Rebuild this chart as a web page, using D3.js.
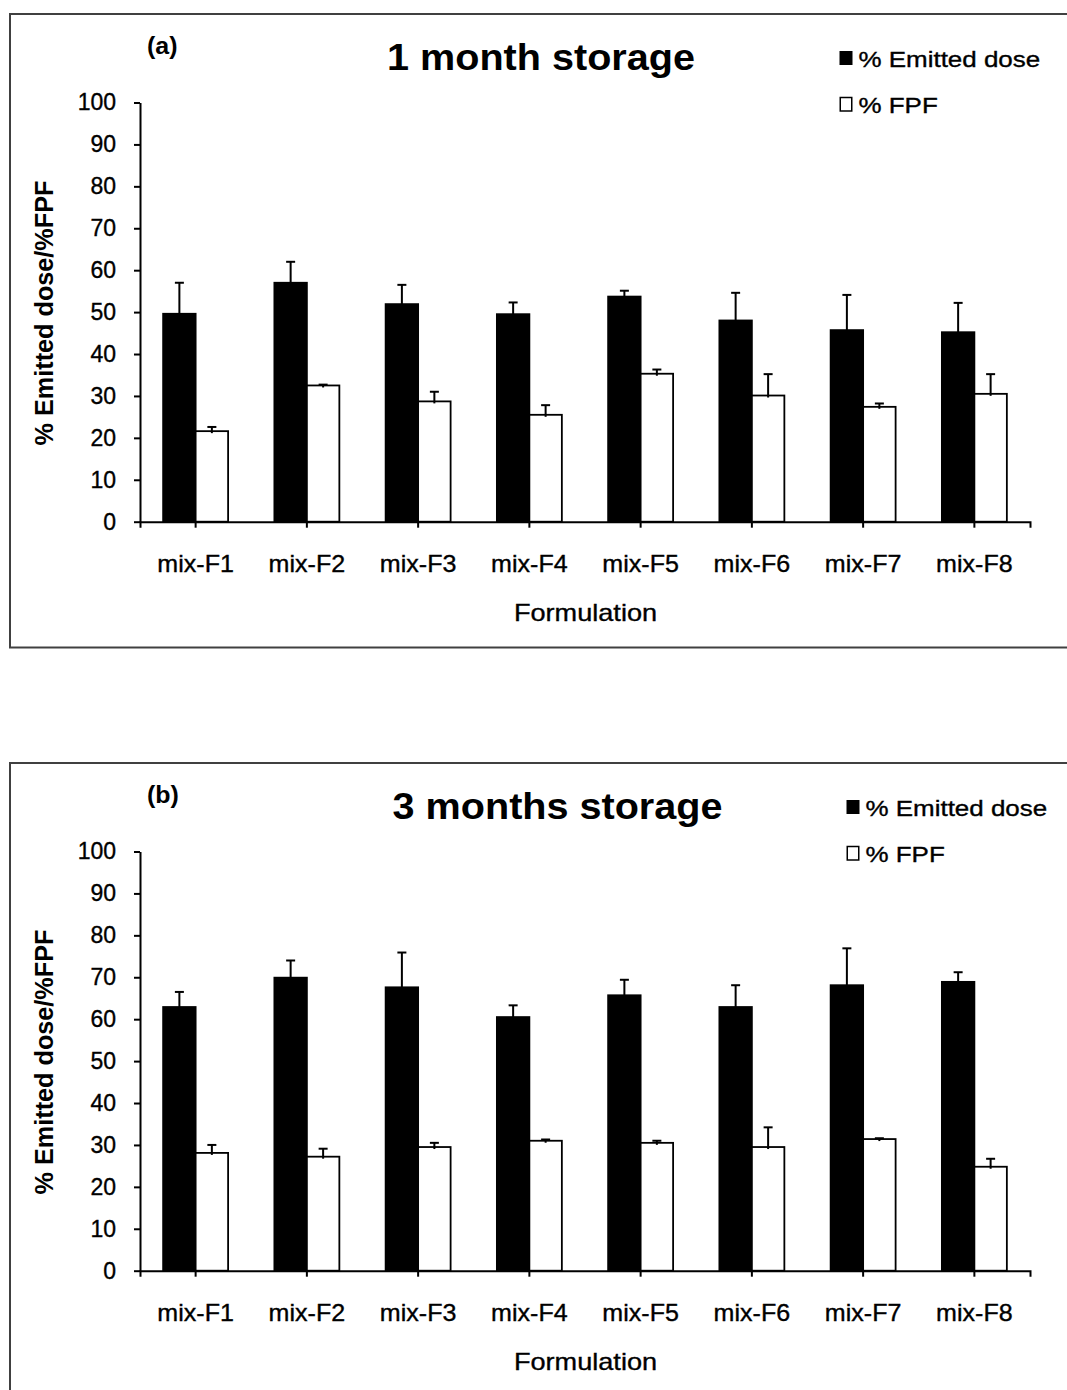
<!DOCTYPE html>
<html>
<head>
<meta charset="utf-8">
<script src="https://cdn.jsdelivr.net/npm/d3@7"></script>
<style>
  html, body { margin: 0; padding: 0; background: #fff; }
  svg { display: block; }
  text { font-family: "Liberation Sans", Arial, sans-serif; fill: #000; }
  .heavy { stroke: #000; stroke-width: 0.35px; }
</style>
</head>
<body>
<svg id="chart" width="1067" height="1390"></svg>
<script>
// Formulations on the x axis
const formulations = ["mix-F1", "mix-F2", "mix-F3", "mix-F4", "mix-F5", "mix-F6", "mix-F7", "mix-F8"];
const seriesNames = ["% Emitted dose", "% FPF"];
const yTicks = [0, 10, 20, 30, 40, 50, 60, 70, 80, 90, 100];

// 1 month storage: mean and (upper) standard deviation
const emitted1m    = [49.6, 57.0, 51.9, 49.5, 53.7, 48.0, 45.7, 45.2];
const emitted1mErr = [7.4, 5.0, 4.6, 2.8, 1.4, 6.6, 8.4, 7.0];
const fpf1m        = [21.6, 32.5, 28.7, 25.5, 35.3, 30.1, 27.4, 30.5];
const fpf1mErr     = [1.0, 0.2, 2.3, 2.3, 1.0, 5.1, 0.8, 4.7];

// 3 months storage
const emitted3m    = [62.9, 69.9, 67.6, 60.5, 65.7, 62.9, 68.1, 68.9];
const emitted3mErr = [3.6, 4.1, 8.3, 2.8, 3.7, 5.2, 8.8, 2.3];
const fpf3m        = [28.1, 27.2, 29.5, 31.0, 30.5, 29.5, 31.4, 24.8];
const fpf3mErr     = [1.9, 1.9, 1.0, 0.3, 0.5, 4.7, 0.2, 1.9];

const svg = d3.select("#chart");

// Text helper with horizontal stretch
function label(g, x, y, str, size, opts = {}) {
  const { weight = "normal", sx = 1, anchor = "start", rotate = 0 } = opts;
  return g.append("text")
    .attr("class", weight === "normal" ? "heavy" : null)
    .attr("transform", `translate(${x},${y}) rotate(${rotate}) scale(${sx},1)`)
    .attr("text-anchor", anchor)
    .attr("font-size", size)
    .attr("font-weight", weight)
    .text(str);
}

function drawPanel(cfg) {
  const g = svg.append("g").attr("transform", `translate(0,${cfg.dy})`);

  // outer frame (runs past the right edge)
  g.append("rect")
    .attr("x", 10).attr("y", 14)
    .attr("width", 1080).attr("height", 633.5)
    .attr("fill", "#fff").attr("stroke", "#404040").attr("stroke-width", 2);

  const x0 = d3.scaleBand().domain(formulations).range([140, 1030])
    .paddingInner(0.416).paddingOuter(0.208);
  const x1 = d3.scaleBand().domain(seriesNames).range([0, x0.bandwidth()]);
  const y = d3.scaleLinear().domain([0, 100]).range([521.7, 102.5]);

  const rows = formulations.map((f, i) => ({
    f,
    vals: [
      { s: seriesNames[0], v: cfg.emitted[i], e: cfg.emittedErr[i] },
      { s: seriesNames[1], v: cfg.fpf[i], e: cfg.fpfErr[i] }
    ]
  }));

  const groups = g.selectAll("g.grp").data(rows).join("g")
    .attr("class", "grp")
    .attr("transform", d => `translate(${x0(d.f)},0)`);

  groups.selectAll("rect").data(d => d.vals).join("rect")
    .attr("x", d => x1(d.s))
    .attr("y", d => y(d.v))
    .attr("width", x1.bandwidth())
    .attr("height", d => y(0) - y(d.v))
    .attr("fill", d => d.s === seriesNames[0] ? "#000" : "#fff")
    .attr("stroke", "#000")
    .attr("stroke-width", 1.8);

  // upper error bars with caps
  const eb = groups.selectAll("g.err").data(d => d.vals).join("g").attr("class", "err");
  eb.append("line")
    .attr("x1", d => x1(d.s) + x1.bandwidth() / 2)
    .attr("x2", d => x1(d.s) + x1.bandwidth() / 2)
    .attr("y1", d => y(d.v) + 2)
    .attr("y2", d => y(d.v + d.e))
    .attr("stroke", "#000").attr("stroke-width", 2);
  eb.append("line")
    .attr("x1", d => x1(d.s) + x1.bandwidth() / 2 - 4.5)
    .attr("x2", d => x1(d.s) + x1.bandwidth() / 2 + 4.5)
    .attr("y1", d => y(d.v + d.e))
    .attr("y2", d => y(d.v + d.e))
    .attr("stroke", "#000").attr("stroke-width", 2);

  // y axis
  const ya = g.append("g").attr("transform", "translate(140,0)")
    .call(d3.axisLeft(y).tickValues(yTicks).tickSize(6).tickSizeOuter(0).tickPadding(18));
  ya.select(".domain").attr("stroke", "#000").attr("stroke-width", 2);
  ya.selectAll(".tick line").attr("stroke", "#000").attr("stroke-width", 2);
  ya.selectAll(".tick text")
    .attr("class", "heavy")
    .attr("font-family", "Liberation Sans, Arial, sans-serif")
    .attr("font-size", 23).attr("fill", "#000");

  // x axis
  const xa = g.append("g").attr("transform", `translate(0,${y(0)})`)
    .call(d3.axisBottom(x0).tickSize(6).tickSizeOuter(6).tickPadding(0));
  xa.select(".domain").attr("stroke", "#000").attr("stroke-width", 2);
  xa.selectAll(".tick line").attr("stroke", "#000").attr("stroke-width", 2);
  xa.selectAll(".tick text")
    .attr("class", "heavy")
    .attr("font-family", "Liberation Sans, Arial, sans-serif")
    .attr("font-size", 23).attr("fill", "#000")
    .attr("y", 50).attr("dy", 0)
    .attr("transform", "scale(1.09,1)");

  // titles and labels
  label(g, 147, 54, cfg.tag, 24, { weight: "bold", sx: 1.04 });
  label(g, cfg.titleX, 70, cfg.title, 37, { weight: "bold", sx: 1.07, anchor: "middle" });
  label(g, 585.5, 621, "Formulation", 24, { sx: 1.13, anchor: "middle" });
  label(g, 53, 313, "% Emitted dose/%FPF", 26, { weight: "bold", sx: 0.97, anchor: "middle", rotate: -90 });

  // legend
  const lx = cfg.legendX;
  g.append("rect").attr("x", lx).attr("y", 51).attr("width", 13).attr("height", 14)
    .attr("fill", "#000");
  label(g, lx + 19, 67, seriesNames[0], 22, { sx: 1.18 });
  g.append("rect").attr("x", lx + 0.75).attr("y", 97.5).attr("width", 11.5).attr("height", 13.5)
    .attr("fill", "#fff").attr("stroke", "#000").attr("stroke-width", 1.5);
  label(g, lx + 19, 113, seriesNames[1], 22, { sx: 1.18 });
}

drawPanel({
  dy: 0, tag: "(a)", title: "1 month storage", titleX: 541, legendX: 839.5,
  emitted: emitted1m, emittedErr: emitted1mErr, fpf: fpf1m, fpfErr: fpf1mErr
});
drawPanel({
  dy: 749, tag: "(b)", title: "3 months storage", titleX: 557.5, legendX: 846.5,
  emitted: emitted3m, emittedErr: emitted3mErr, fpf: fpf3m, fpfErr: fpf3mErr
});
</script>
</body>
</html>
